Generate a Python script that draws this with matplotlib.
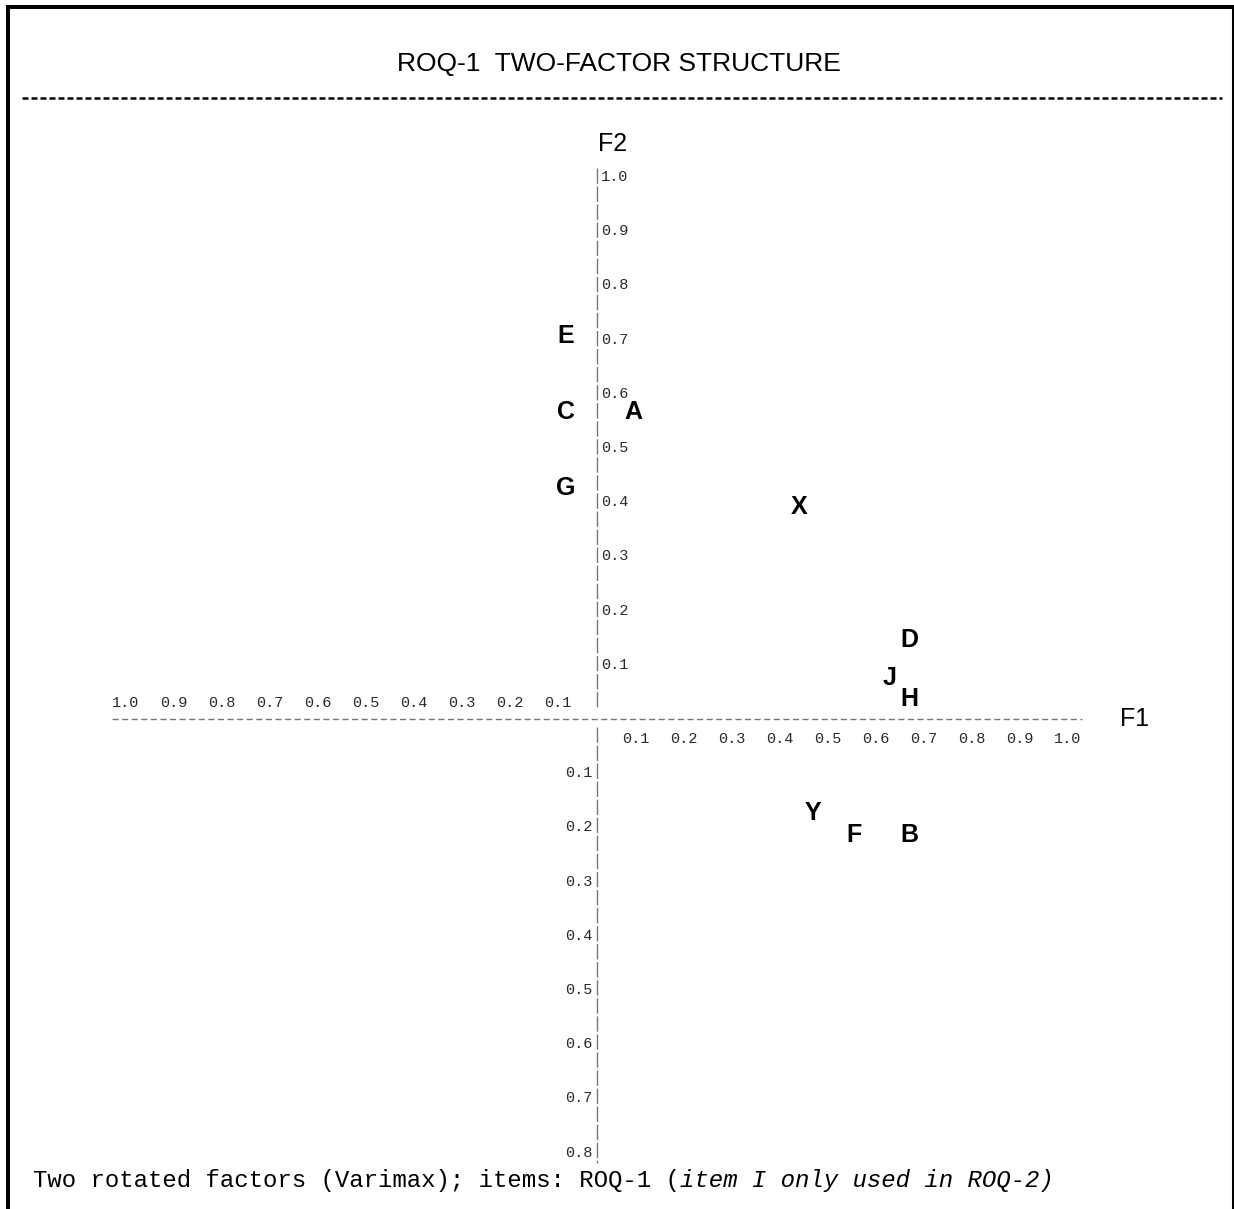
import matplotlib
matplotlib.use("Agg")
import matplotlib.pyplot as plt
from matplotlib.lines import Line2D

# item loadings on the two rotated factors
items = ["E", "C", "G", "A", "X", "D", "J", "H", "Y", "F", "B"]
f1 = [-0.065, -0.065, -0.065, 0.075, 0.42, 0.65, 0.61, 0.65, 0.45, 0.535, 0.65]
f2 = [0.71, 0.57, 0.43, 0.57, 0.395, 0.15, 0.08, 0.04, -0.17, -0.21, -0.21]

up_ticks = [0.1, 0.2, 0.3, 0.4, 0.5, 0.6, 0.7, 0.8, 0.9, 1.0]
down_ticks = [0.1, 0.2, 0.3, 0.4, 0.5, 0.6, 0.7, 0.8]
left_ticks = [0.1, 0.2, 0.3, 0.4, 0.5, 0.6, 0.7, 0.8, 0.9, 1.0]
right_ticks = [0.1, 0.2, 0.3, 0.4, 0.5, 0.6, 0.7, 0.8, 0.9, 1.0]

title = "ROQ-1  TWO-FACTOR STRUCTURE"
note_plain = "Two rotated factors (Varimax); items: ROQ-1 ("
note_italic = "item I only used in ROQ-2)"

W, H = 1234, 1209
SX, SY = 480.0, 542.0  # pixels per unit loading
OX, OY = 597, 719      # origin in pixels

fig = plt.figure(figsize=(W / 100, H / 100), dpi=100)
ax = fig.add_axes([0, 0, 1, 1])
ax.set_xlim(-OX / SX, (W - OX) / SX)
ax.set_ylim(-(H - OY) / SY, OY / SY)
ax.axis("off")


def fx(px):
    return px / W


def fy(py):
    return 1 - py / H


# frame (left, top, right)
for xs, ys, lw in (
    ([8, 8], [5, H], 2.9),
    ([6, W], [7, 7], 2.9),
    ([1232.5, 1232.5], [5, H], 2.2),
):
    fig.add_artist(Line2D([fx(x) for x in xs], [fy(y) for y in ys],
                          color="black", lw=lw, solid_capstyle="butt"))

fig.text(fx(619), fy(64), title, family="Liberation Sans", fontsize=19,
         ha="center", va="center")
fig.add_artist(Line2D([fx(22), fx(1222)], [fy(98), fy(98)], color="black",
                      lw=1.8, dashes=(2.4, 1.2), dash_capstyle="butt"))

mono = "Liberation Mono"
grey = "#2a2a2a"
axis_col = "#777777"

# horizontal axis (dashed) and vertical axis (bars)
ax.plot([-1.01, 1.01], [0, 0], color=axis_col, lw=1, dashes=(4.4, 2.5))
ax.plot([0, 0], [1.017, 0.02], color=axis_col, lw=1, dashes=(11, 2))
ax.plot([0, 0], [-0.015, -0.82], color=axis_col, lw=1, dashes=(11, 2))

for v in up_ticks:
    ax.annotate(f"{v:.1f}", (0, v), xytext=(3, 0), textcoords="offset points",
                ha="left", va="center", family=mono, fontsize=11, color=grey)
for v in down_ticks:
    ax.annotate(f"{v:.1f}", (0, -v), xytext=(-3, 0), textcoords="offset points",
                ha="right", va="center", family=mono, fontsize=11, color=grey)
for v in left_ticks:
    ax.annotate(f"{v:.1f}", (-v, 0), xytext=(6.5, 11.5), textcoords="offset points",
                ha="center", va="center", family=mono, fontsize=11, color=grey)
for v in right_ticks:
    ax.annotate(f"{v:.1f}", (v, 0), xytext=(-6.5, -14.4), textcoords="offset points",
                ha="center", va="center", family=mono, fontsize=11, color=grey)

ax.text(16 / SX, (OY - 144) / SY, "F2", family="Liberation Sans", fontsize=18,
        ha="center", va="center")
ax.text((1135 - OX) / SX, 0, "F1", family="Liberation Sans", fontsize=18,
        ha="center", va="center")

fs = 18
for name, x, y in zip(items, f1, f2):
    ax.annotate(name, (x, y), xytext=(0, -0.365 * fs), textcoords="offset points",
                ha="center", va="baseline", family="Liberation Sans",
                fontweight="bold", fontsize=fs)

nfs = 17.25
fig.text(fx(33), fy(1187), note_plain, family=mono, fontsize=nfs,
         ha="left", va="baseline")
ax.annotate(note_italic, (fx(33), fy(1187)), xycoords="figure fraction",
            xytext=(len(note_plain) * 0.6 * nfs, 0), textcoords="offset points",
            family=mono, style="italic", fontsize=nfs, ha="left", va="baseline")

fig.savefig("out.png", dpi=100)
